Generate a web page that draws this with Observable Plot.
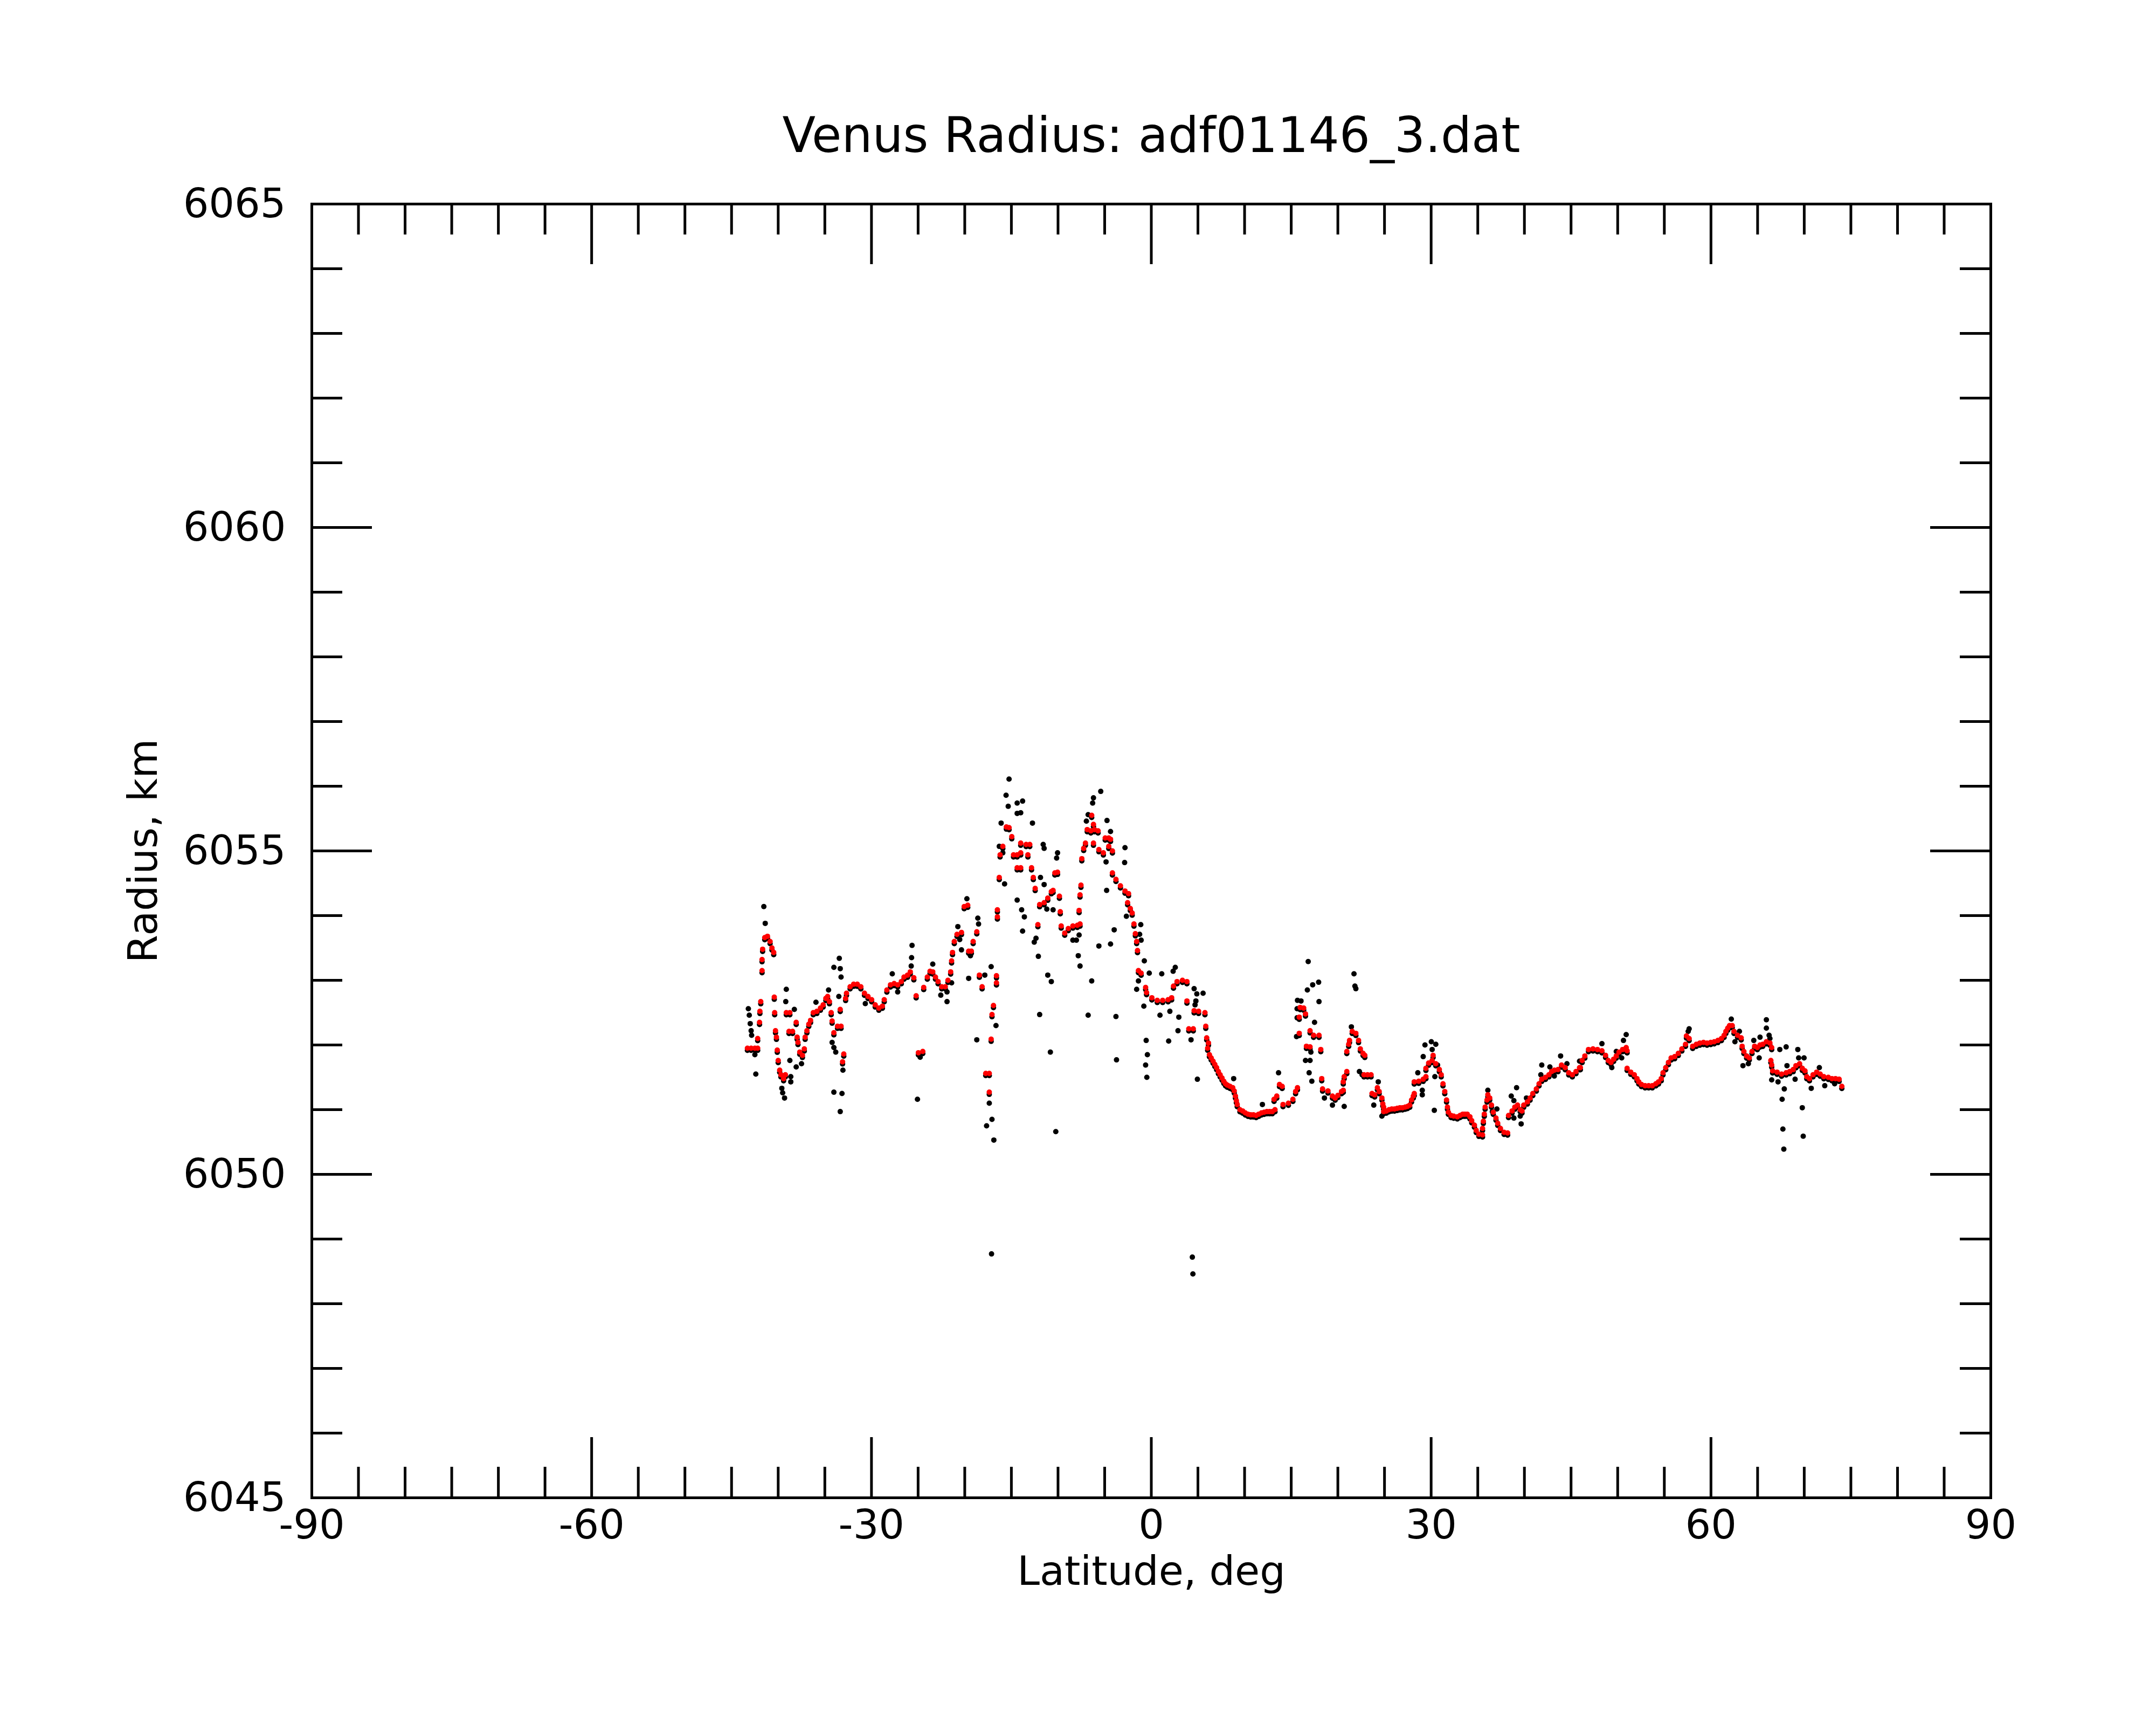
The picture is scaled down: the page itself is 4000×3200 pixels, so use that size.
<!DOCTYPE html>
<html><head><meta charset="utf-8">
<script src="https://cdn.jsdelivr.net/npm/d3@7"></script>
<script src="https://cdn.jsdelivr.net/npm/@observablehq/plot@0.6"></script>
<style>html,body{margin:0;padding:0;background:#fff;} svg{display:block}</style>
</head><body><div id="chart"></div>
<script>
const title = "Venus Radius: adf01146_3.dat";
const xLabel = "Latitude, deg";
const yLabel = "Radius, km";
const xMajorTicks = [-90,-60,-30,0,30,60,90];
const xMinorTicks = [-85,-80,-75,-70,-65,-55,-50,-45,-40,-35,-25,-20,-15,-10,-5,5,10,15,20,25,35,40,45,50,55,65,70,75,80,85];
const yMajorTicks = [6045,6050,6055,6060,6065];
const yMinorTicks = [6046,6047,6048,6049,6051,6052,6053,6054,6056,6057,6058,6059,6061,6062,6063,6064];

// filtered (red) samples: [latitude, radius]
const redPoints = [
[-43.3,6051.95],[-42.9,6051.95],[-42.5,6051.95],[-42.2,6051.95],[-42.2,6052.1],[-42.0,6052.35],[-41.96,6052.52],[-41.87,6052.67],[-41.73,6053.15],[-41.73,6053.32],[-41.67,6053.48],[-41.44,6053.66],[-41.15,6053.68],[-40.87,6053.6],[-40.67,6053.5],[-40.48,6053.43],[-40.42,6052.74],[-40.38,6052.5],[-40.29,6052.22],[-40.19,6052.12],[-40.1,6051.92],[-40.0,6051.76],[-39.84,6051.61],[-39.71,6051.54],[-39.42,6051.48],[-39.23,6051.54],[-39.13,6052.5],[-38.75,6052.5],[-38.84,6052.21],[-38.46,6052.21],[-38.07,6052.35],[-37.97,6052.12],[-37.88,6052.04],[-37.69,6051.89],[-37.4,6051.84],[-37.2,6051.94],[-37.11,6052.12],[-36.92,6052.22],[-36.72,6052.32],[-36.53,6052.38],[-36.24,6052.5],[-35.85,6052.52],[-35.47,6052.57],[-35.18,6052.62],[-34.89,6052.72],[-34.7,6052.75],[-34.51,6052.67],[-34.32,6052.5],[-34.22,6052.37],[-34.03,6052.19],[-33.64,6052.29],[-33.26,6052.29],[-33.35,6052.55],[-32.97,6051.86],[-33.1,6051.74],[-32.77,6052.72],[-32.68,6052.8],[-32.29,6052.9],[-31.91,6052.94],[-31.52,6052.94],[-31.14,6052.9],[-30.75,6052.8],[-30.37,6052.75],[-29.98,6052.7],[-29.6,6052.62],[-29.21,6052.57],[-28.83,6052.6],[-28.63,6052.7],[-28.35,6052.85],[-27.96,6052.93],[-27.57,6052.95],[-27.19,6052.93],[-26.8,6052.98],[-26.51,6053.05],[-26.13,6053.08],[-25.84,6053.13],[-25.46,6053.04],[-25.21,6052.76],[-24.97,6051.88],[-24.5,6051.9],[-24.4,6052.89],[-24.01,6053.05],[-23.72,6053.14],[-23.43,6053.13],[-23.14,6053.05],[-22.86,6052.98],[-22.47,6052.9],[-22.09,6052.9],[-21.8,6053.0],[-21.51,6053.13],[-21.41,6053.3],[-21.31,6053.43],[-21.12,6053.6],[-20.83,6053.71],[-20.35,6053.74],[-20.06,6054.14],[-19.68,6054.16],[-19.58,6053.45],[-19.29,6053.45],[-19.1,6053.6],[-18.71,6053.75],[-18.43,6053.08],[-18.14,6052.9],[-17.75,6051.56],[-17.37,6051.56],[-17.37,6051.27],[-17.17,6052.09],[-17.08,6052.47],[-16.92,6052.61],[-16.6,6052.96],[-16.6,6053.07],[-16.5,6053.98],[-16.5,6054.09],[-16.3,6054.59],[-16.21,6054.94],[-15.92,6055.07],[-15.54,6055.37],[-15.25,6055.36],[-14.96,6055.22],[-14.77,6054.94],[-14.38,6054.94],[-14.38,6054.74],
[-14.0,6055.12],[-13.42,6055.1],[-13.03,6055.1],[-14.0,6054.97],[-13.23,6054.94],[-14.0,6054.74],[-12.84,6054.74],[-12.65,6054.59],[-12.45,6054.42],[-12.16,6053.86],[-11.97,6054.17],[-11.49,6054.2],[-11.1,6054.27],[-10.72,6054.37],[-10.53,6054.39],[-10.34,6054.66],[-10.05,6054.67],[-9.85,6054.3],[-9.76,6054.06],[-9.66,6053.84],[-9.28,6053.73],[-8.9,6053.8],[-8.41,6053.84],[-7.93,6053.85],[-7.64,6053.87],[-7.74,6054.08],[-7.64,6054.32],[-7.54,6054.47],[-7.45,6054.88],[-7.25,6055.04],[-7.06,6055.12],[-6.87,6055.33],[-6.48,6055.31],[-6.1,6055.33],[-5.71,6055.31],[-6.39,6055.55],[-6.2,6055.41],[-6.2,6055.12],[-5.62,6055.02],[-5.14,6054.97],[-4.94,6055.2],[-4.56,6055.2],[-4.37,6055.18],[-4.56,6055.07],[-4.17,6055.0],[-4.17,6054.66],[-3.79,6054.56],[-3.31,6054.46],[-2.82,6054.38],[-2.44,6054.34],[-2.54,6054.2],[-2.25,6054.11],[-2.05,6054.04],[-1.86,6053.87],[-1.71,6053.72],[-1.57,6053.6],[-1.48,6053.46],[-1.38,6053.15],[-1.09,6053.11],[-0.61,6052.89],[-0.51,6052.81],[0.06,6052.73],[0.64,6052.69],[1.22,6052.69],[1.8,6052.7],[2.18,6052.73],[2.38,6052.91],[2.76,6052.98],[3.34,6053.0],[3.82,6052.98],[3.82,6052.68],[4.59,6052.53],[5.07,6052.52],[5.75,6052.5],[5.84,6052.29],[4.02,6052.25],[4.5,6052.25],[5.94,6052.11],[6.04,6051.95],[6.13,6052.03],[6.23,6051.85],[6.42,6051.8],[6.62,6051.75],[6.81,6051.7],[7.0,6051.65],[7.19,6051.59],[7.38,6051.54],[7.58,6051.49],[7.77,6051.44],[7.96,6051.4],[8.15,6051.38],[8.44,6051.36],[8.73,6051.34],[8.89,6051.29],[9.02,6051.21],[9.12,6051.14],[9.21,6051.08],[9.5,6051.0],[9.79,6050.98],[10.08,6050.95],[10.37,6050.93],[10.66,6050.92],[10.95,6050.92],[11.24,6050.91],[11.52,6050.93],[11.81,6050.95],[12.1,6050.96],[12.39,6050.97],[12.68,6050.97],[12.97,6050.97],[13.26,6051.0],[13.16,6051.16],[13.45,6051.21],[13.74,6051.39],[14.03,6051.36],[14.12,6051.08],[14.7,6051.1],[15.18,6051.16],[15.47,6051.28],[15.67,6051.34],
[15.96,6052.58],[16.34,6052.57],[16.53,6052.48],[15.86,6052.43],[15.86,6052.18],[17.02,6052.22],[17.4,6052.15],[17.98,6052.15],[16.63,6051.98],[17.02,6051.97],[18.17,6051.93],[18.27,6051.48],[18.36,6051.32],[18.94,6051.29],[19.42,6051.21],[19.71,6051.18],[20.0,6051.22],[20.39,6051.28],[20.58,6051.3],[20.58,6051.43],[20.68,6051.51],[20.96,6051.59],[20.96,6051.9],[21.16,6052.01],[21.25,6052.07],[21.54,6052.21],[21.93,6052.18],[22.22,6052.07],[22.41,6051.94],[22.7,6051.87],[22.89,6051.84],[22.8,6051.54],[23.18,6051.54],[23.56,6051.54],[23.66,6051.25],[23.95,6051.23],[24.24,6051.34],[24.43,6051.28],[24.72,6051.18],[24.82,6051.09],[24.91,6051.04],[24.91,6050.97],[25.2,6050.98],[25.49,6051.0],[25.78,6051.01],[26.07,6051.01],[26.36,6051.02],[26.65,6051.03],[26.93,6051.03],[27.22,6051.04],[27.47,6051.05],[27.71,6051.07],[27.9,6051.15],[28.09,6051.21],[28.19,6051.25],[28.19,6051.43],[28.67,6051.44],[29.15,6051.47],[29.44,6051.51],[29.44,6051.64],[29.73,6051.72],[30.11,6051.76],[30.21,6051.84],[30.5,6051.71],[30.88,6051.62],[31.08,6051.54],[31.27,6051.4],[31.46,6051.28],[31.65,6051.15],[31.75,6051.04],[31.85,6050.96],[32.14,6050.91],[32.42,6050.9],[32.81,6050.89],[33.1,6050.91],[33.39,6050.93],[33.62,6050.93],[33.87,6050.93],[34.16,6050.89],[34.35,6050.83],[34.64,6050.76],[34.83,6050.68],[35.12,6050.62],[35.51,6050.61],[35.51,6050.71],[35.6,6050.82],[35.7,6050.93],[35.79,6051.04],[35.99,6051.15],[36.08,6051.23],[36.28,6051.18],[36.47,6051.07],[36.66,6050.96],[36.95,6050.87],[37.14,6050.79],[37.43,6050.71],[37.82,6050.65],[38.2,6050.64],[38.3,6050.91],[38.68,6050.98],[38.97,6051.04],[39.26,6051.07],[39.55,6051.0],[39.74,6050.98],[39.93,6051.07],[40.32,6051.12],[40.61,6051.18],[40.9,6051.25],[41.28,6051.32],[41.57,6051.4],[41.86,6051.47],[42.25,6051.5],[42.63,6051.54],[42.92,6051.59],[43.21,6051.61],[43.6,6051.62],[43.98,6051.69],[44.37,6051.65],[44.75,6051.57],[45.14,6051.54],[45.53,6051.59],[45.91,6051.65],
[46.0,6051.65],[46.19,6051.76],[46.48,6051.83],[46.87,6051.93],[47.35,6051.94],[47.83,6051.93],[48.31,6051.91],[48.7,6051.84],[48.99,6051.76],[49.28,6051.73],[49.57,6051.78],[49.85,6051.83],[50.14,6051.89],[50.53,6051.93],[50.91,6051.96],[51.01,6051.91],[51.01,6051.64],[51.4,6051.58],[51.78,6051.54],[52.07,6051.48],[52.26,6051.43],[52.55,6051.39],[52.94,6051.37],[53.32,6051.37],[53.71,6051.37],[54.09,6051.4],[54.38,6051.43],[54.67,6051.48],[54.86,6051.57],[55.15,6051.65],[55.44,6051.73],[55.73,6051.8],[56.11,6051.82],[56.5,6051.87],[56.88,6051.94],[57.27,6052.01],[57.37,6052.14],[57.66,6052.1],[58.04,6051.98],[58.43,6052.01],[58.81,6052.03],[59.2,6052.04],[59.58,6052.03],[59.97,6052.04],[60.35,6052.05],[60.74,6052.07],[61.12,6052.1],[61.41,6052.15],[61.6,6052.21],[61.8,6052.26],[61.99,6052.3],[62.28,6052.3],[62.47,6052.21],[62.85,6052.15],[63.24,6052.11],[63.34,6051.98],[63.53,6051.9],[63.82,6051.83],[64.11,6051.8],[64.4,6051.9],[64.68,6051.98],[64.97,6051.96],[65.26,6052.0],[65.55,6052.01],[65.94,6052.05],[66.32,6052.03],[66.51,6051.96],[66.42,6051.76],[66.51,6051.69],[66.61,6051.6],[67.09,6051.58],[67.57,6051.55],[68.06,6051.57],[68.44,6051.59],[68.82,6051.62],[69.11,6051.68],[69.5,6051.71],[69.79,6051.64],[70.08,6051.6],[70.27,6051.51],[70.56,6051.48],[70.94,6051.54],[71.33,6051.58],[71.71,6051.55],[72.1,6051.51],[72.58,6051.5],[72.97,6051.48],[73.35,6051.48],[73.74,6051.47],[74.03,6051.36]
];

// raw (black) samples that stand apart from the filtered ones: [latitude, radius]
const blackPoints = [
[-41.54,6054.14],[-41.39,6053.88],[-43.2,6052.56],[-43.1,6052.46],[-43.0,6052.33],[-42.9,6052.22],[-42.85,6052.15],[-42.5,6051.85],[-42.4,6051.55],[-39.61,6051.33],[-39.52,6051.26],[-39.32,6051.18],[-39.13,6052.86],[-39.19,6052.67],[-38.75,6051.76],[-38.65,6051.51],[-38.65,6051.43],[-38.27,6052.55],[-38.07,6051.66],[-37.5,6051.71],[-35.95,6052.66],[-34.6,6052.85],[-34.03,6053.2],[-33.45,6053.34],[-33.35,6053.18],[-33.26,6053.05],[-33.5,6052.75],[-34.22,6052.04],[-34.03,6051.96],[-33.83,6051.89],[-33.06,6051.61],[-34.03,6051.27],[-33.16,6051.25],[-33.35,6050.97],[-30.66,6052.64],[-27.77,6053.1],[-27.19,6052.82],[-25.65,6053.54],[-25.7,6053.35],[-25.74,6053.22],[-25.07,6051.16],[-24.78,6051.81],[-23.43,6053.25],[-22.57,6052.77],[-21.9,6052.67],[-21.9,6052.82],[-21.41,6052.96],[-20.74,6053.83],[-20.54,6053.63],[-20.35,6053.47],[-19.77,6054.26],[-18.6,6053.96],[-18.52,6053.87],[-19.39,6053.38],[-19.58,6053.03],[-18.71,6052.08],[-17.85,6053.08],[-17.17,6053.21],[-16.65,6052.3],[-17.66,6050.75],[-17.08,6050.85],[-17.37,6051.1],[-16.88,6050.53],[-17.13,6048.77],[-15.25,6056.11],[-15.57,6055.86],[-15.34,6055.69],[-16.1,6055.43],[-16.3,6055.07],[-15.92,6054.97],[-15.73,6054.49],[-14.38,6055.74],[-14.38,6055.58],[-14.38,6054.24],
[-13.8,6055.77],[-14.0,6055.59],[-12.74,6055.43],[-11.59,6055.1],[-11.49,6055.04],[-10.05,6054.97],[-10.15,6054.89],[-11.88,6054.59],[-11.49,6054.48],[-13.9,6054.09],[-13.61,6053.98],[-13.8,6053.76],[-11.2,6054.1],[-10.53,6054.09],[-12.36,6053.65],[-12.55,6053.59],[-12.11,6053.37],[-11.1,6053.08],[-10.72,6052.98],[-11.97,6052.47],[-10.82,6051.89],[-10.24,6050.66],[-7.83,6053.38],[-7.64,6053.22],[-8.41,6053.62],[-8.03,6053.62],[-7.74,6053.7],[-6.39,6052.99],[-6.77,6052.46],[-6.29,6055.74],[-6.2,6055.82],[-5.42,6055.92],[-6.77,6055.56],[-6.96,6055.46],[-4.75,6055.47],[-4.37,6055.3],[-2.82,6055.05],[-2.86,6054.82],[-4.85,6054.83],[-4.79,6054.39],[-2.67,6053.99],[-1.13,6053.86],[-1.25,6053.71],[-1.09,6053.62],[-3.98,6053.78],[-4.37,6053.56],[-5.62,6053.53],[-3.79,6052.44],[-3.73,6051.77],[-0.75,6053.3],[-0.22,6053.11],[-1.57,6052.86],[-1.38,6052.99],[-0.8,6052.6],[-0.55,6052.07],[-0.42,6051.85],[-0.61,6051.69],[-0.48,6051.5],[1.12,6053.1],[2.57,6053.2],[2.34,6053.14],[0.93,6052.46],[1.99,6052.52],[1.86,6052.06],[2.95,6052.43],[2.86,6052.22],[4.59,6052.87],[4.88,6052.79],[5.55,6052.8],[4.78,6052.68],[4.69,6052.62],[4.26,6052.08],[4.94,6051.47],[4.4,6048.72],[4.46,6048.46],[8.83,6051.48],[11.91,6051.08],[13.64,6051.57],[15.67,6052.69],[15.63,6052.56],[15.63,6052.42],[15.57,6052.13],
[16.82,6053.29],[16.73,6052.85],[17.3,6052.93],[17.94,6052.97],[17.98,6052.67],[16.05,6052.68],[17.5,6052.35],[21.73,6053.1],[21.83,6052.91],[21.93,6052.87],[21.45,6052.28],[17.11,6051.89],[16.53,6051.76],[17.02,6051.76],[16.92,6051.57],[17.21,6051.44],[18.56,6051.18],[19.42,6051.07],[20.68,6051.05],[22.31,6051.59],[22.6,6051.54],[24.33,6051.43],[23.85,6051.07],[24.72,6050.9],[29.05,6051.3],[29.05,6051.23],[28.57,6051.57],[30.02,6052.05],[30.5,6052.01],[29.34,6052.0],[30.11,6051.93],[29.15,6051.82],[30.4,6051.51],[30.69,6051.69],[30.34,6050.99],[36.08,6051.3],[36.56,6050.97],[37.05,6051.01],[39.16,6051.34],[38.59,6051.21],[38.87,6051.14],[39.55,6050.9],[39.65,6050.78],[38.87,6050.87],[40.22,6051.18],[41.86,6051.69],[41.76,6051.54],[42.73,6051.66],[43.21,6051.52],[43.88,6051.83],[44.56,6051.71],[45.91,6051.75],
[48.31,6052.02],[50.91,6052.16],[50.62,6052.07],[49.37,6051.65],[49.85,6051.9],[50.43,6051.8],[57.66,6052.25],[57.56,6052.21],[62.18,6052.4],[63.05,6052.21],[62.57,6052.05],[63.43,6051.68],[64.01,6051.71],[64.59,6052.07],[65.26,6052.12],[65.94,6052.39],[65.94,6052.26],[66.23,6052.15],[66.32,6052.1],[65.17,6051.8],[67.38,6051.93],[68.06,6051.97],[69.31,6051.93],[69.4,6051.8],[69.98,6051.8],[66.51,6051.46],[67.19,6051.43],[67.86,6051.32],[67.63,6051.16],[67.71,6050.7],[67.81,6050.39],[69.79,6051.03],[69.89,6050.59],[68.15,6051.68],[71.62,6051.65],[70.75,6051.33],[72.2,6051.37],[73.26,6051.4],[69.02,6051.47]
];

const W = 4000, H = 3200, mL = 578, mR = 307, mT = 378, mB = 422;
const fw = W - mL - mR, fh = H - mT - mB;
const majorLen = 112, minorLen = 57, lw = 5, dotR = 5;
const fx = d => d[0], fy = d => d[1];
const tickStyle = {stroke: "black", strokeWidth: lw};

const chart = Plot.plot({
  width: W, height: H,
  marginLeft: mL, marginRight: mR, marginTop: mT, marginBottom: mB,
  style: {fontFamily: "DejaVu Sans", background: "white", color: "black", overflow: "visible"},
  x: {domain: [-90, 90]},
  y: {domain: [6045, 6065]},
  marks: [
    Plot.dot(redPoints, {x: fx, y: fy, r: dotR, fill: "black", dy: 4}),
    Plot.dot(blackPoints, {x: fx, y: fy, r: dotR, fill: "black"}),
    Plot.dot(redPoints, {x: fx, y: fy, r: dotR, fill: "#ff0000"}),
    Plot.ruleX(xMajorTicks, {x: d => d, insetTop: fh - majorLen, ...tickStyle}),
    Plot.ruleX(xMajorTicks, {x: d => d, insetBottom: fh - majorLen, ...tickStyle}),
    Plot.ruleX(xMinorTicks, {x: d => d, insetTop: fh - minorLen, ...tickStyle}),
    Plot.ruleX(xMinorTicks, {x: d => d, insetBottom: fh - minorLen, ...tickStyle}),
    Plot.ruleY(yMajorTicks, {y: d => d, insetRight: fw - majorLen, ...tickStyle}),
    Plot.ruleY(yMajorTicks, {y: d => d, insetLeft: fw - majorLen, ...tickStyle}),
    Plot.ruleY(yMinorTicks, {y: d => d, insetRight: fw - minorLen, ...tickStyle}),
    Plot.ruleY(yMinorTicks, {y: d => d, insetLeft: fw - minorLen, ...tickStyle}),
    Plot.frame({stroke: "black", strokeWidth: lw}),
    Plot.axisX(xMajorTicks, {anchor: "bottom", tickSize: 0, tickPadding: 22, fontSize: 75, tickFormat: d => String(d), label: null}),
    Plot.axisY(yMajorTicks, {anchor: "left", tickSize: 0, tickPadding: 48, fontSize: 75, tickFormat: d => String(d), label: null}),
    Plot.text([xLabel], {text: d => d, frameAnchor: "bottom", textAnchor: "middle", lineAnchor: "middle", dy: 137, fontSize: 75}),
    Plot.text([yLabel], {text: d => d, frameAnchor: "left", textAnchor: "middle", lineAnchor: "middle", dx: -312, rotate: -90, fontSize: 75}),
    Plot.text([title], {text: d => d, frameAnchor: "top", textAnchor: "middle", lineAnchor: "middle", dy: -125, fontSize: 90})
  ]
});
document.getElementById("chart").appendChild(chart);
</script>
</body></html>
